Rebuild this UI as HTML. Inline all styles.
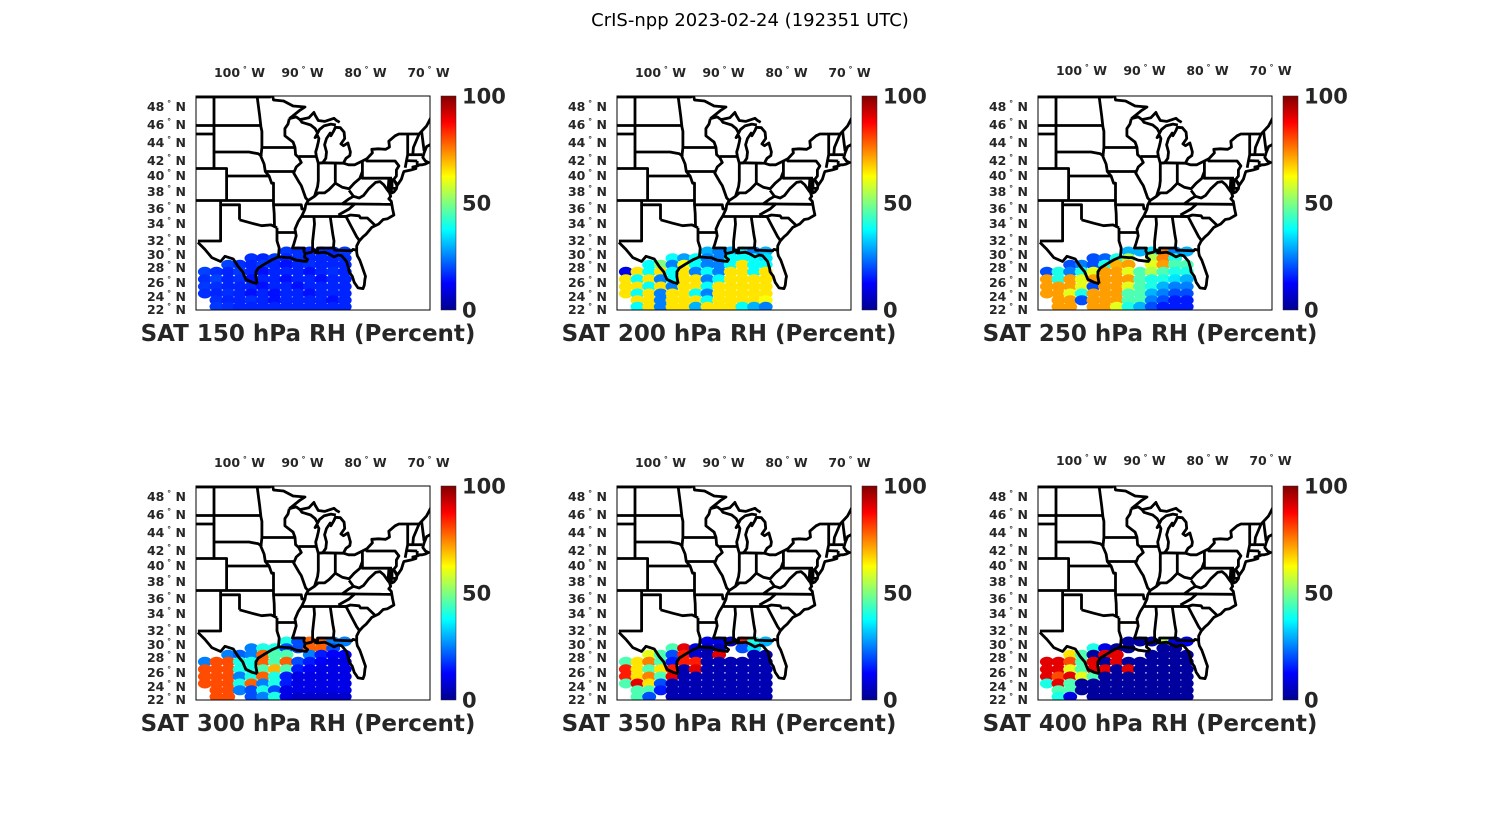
<!DOCTYPE html>
<html><head><meta charset="utf-8"><style>
html,body{margin:0;padding:0;background:#fff;}
svg{display:block;font-family:"DejaVu Sans","Liberation Sans",sans-serif;}
</style></head><body>
<svg id="fig" width="1500" height="825" viewBox="0 0 1500 825" xmlns="http://www.w3.org/2000/svg">
<defs>
<linearGradient id="jet" x1="0" y1="1" x2="0" y2="0">
<stop offset="0" stop-color="#00008f"/><stop offset="0.125" stop-color="#0000ff"/><stop offset="0.375" stop-color="#00ffff"/><stop offset="0.625" stop-color="#ffff00"/><stop offset="0.875" stop-color="#ff0000"/><stop offset="1" stop-color="#800000"/>
</linearGradient>
<clipPath id="boxclip" clipPathUnits="userSpaceOnUse"><rect x="0" y="0" width="234" height="214"/></clipPath>
</defs>
<text x="750" y="26" text-anchor="middle" font-size="18" fill="#000">CrIS-npp 2023-02-24 (192351 UTC)</text>
</svg>
<script>
var N = null;
var panelTitles = ["SAT 150 hPa RH (Percent)","SAT 200 hPa RH (Percent)","SAT 250 hPa RH (Percent)","SAT 300 hPa RH (Percent)","SAT 350 hPa RH (Percent)","SAT 400 hPa RH (Percent)"];
var gridLons = [-105.5,-103.65,-101.8,-99.95,-98.1,-96.25,-94.4,-92.55,-90.7,-88.85,-87,-85.15,-83.3];
var gridLats = [30.5,29.5,28.5,27.5,26.5,25.5,24.5,23.5,22.5];
var latTicks = [48,46,44,42,40,38,36,34,32,30,28,26,24,22];
var lonTicks = [-100,-90,-80,-70];
var cbarTicks = [0,50,100];
var rh150 = [
[N,N,N,N,N,N,N,18,17,16,17,16,18],
[N,N,N,N,17,16,18,16,17,16,16,16,17],
[N,N,19,17,16,18,16,14,16,17,16,16,16],
[19,17,16,18,16,14,16,16,16,14,16,17,16],
[17,19,16,17,14,16,16,14,16,16,14,16,16],
[18,17,16,16,16,14,16,16,14,16,16,16,16],
[17,16,17,16,14,16,14,16,16,14,16,16,16],
[N,17,16,16,17,16,14,16,16,16,16,14,16],
[N,18,17,16,16,16,16,16,16,16,16,16,16]];
var rh200 = [
[N,N,N,N,N,N,N,30,25,30,35,25,30],
[N,N,N,N,38,28,38,25,25,38,38,38,35],
[N,N,38,50,25,62,38,25,25,38,65,38,38],
[10,65,38,65,38,65,25,38,25,65,65,38,65],
[65,38,65,25,38,65,65,25,38,65,65,65,65],
[65,65,38,65,25,65,65,38,65,65,65,65,65],
[65,38,65,25,65,65,38,25,65,65,65,65,65],
[N,65,65,25,65,65,65,38,65,65,65,65,62],
[N,38,65,25,65,65,30,65,65,65,38,30,25]];
var rh250 = [
[N,N,N,N,N,N,N,30,30,35,75,25,30],
[N,N,N,N,20,22,40,55,N,55,75,40,N],
[N,N,20,25,20,40,70,72,N,60,72,45,45],
[20,40,25,40,60,72,72,60,45,55,45,40,40],
[72,40,72,60,72,72,72,72,45,40,40,35,30],
[72,72,72,60,20,72,72,60,45,40,30,25,25],
[72,72,60,40,72,72,72,45,45,30,25,20,20],
[N,72,72,20,72,72,72,45,45,25,20,15,15],
[N,72,72,N,72,72,60,40,30,20,15,15,15]];
var rh300 = [
[N,N,N,N,N,N,N,40,20,78,78,25,25],
[N,N,N,N,25,40,40,20,20,78,78,20,N],
[N,N,25,22,25,78,45,45,N,25,15,12,12],
[25,80,80,40,40,78,45,78,20,15,12,10,10],
[80,80,80,40,40,45,70,45,15,12,10,10,10],
[80,80,80,25,40,78,40,15,10,10,10,10,10],
[80,80,80,40,78,25,40,15,10,10,10,10,10],
[N,80,80,25,20,40,20,10,10,10,10,10,10],
[N,80,80,N,20,25,40,10,8,8,8,8,8]];
var rh350 = [
[N,N,N,N,N,N,N,10,10,5,85,40,30],
[N,N,N,N,45,90,10,5,5,N,20,35,N],
[N,N,60,45,20,85,8,5,90,N,N,5,5],
[45,65,75,45,15,85,85,5,5,5,5,5,5],
[85,65,45,65,85,5,90,5,5,5,5,5,5],
[85,65,75,45,90,5,5,5,5,5,5,5,5],
[45,90,65,20,5,5,5,5,5,5,5,5,5],
[N,45,45,15,5,5,5,5,5,5,5,5,5],
[N,45,20,N,5,5,5,5,5,5,5,5,5]];
var rh400 = [
[N,N,N,N,N,N,N,3,3,3,55,10,10],
[N,N,N,N,40,10,3,3,N,N,3,3,N],
[N,N,65,45,3,90,90,N,N,3,3,3,3],
[90,90,80,45,90,3,90,3,3,3,3,3,3],
[90,90,60,45,90,90,3,90,3,3,3,3,3],
[90,80,90,60,45,3,3,3,3,3,3,3,3],
[40,90,45,3,3,3,3,3,3,3,3,3,3],
[N,45,45,3,3,3,3,3,3,3,3,3,3],
[N,40,10,N,3,3,3,3,3,3,3,3,3]];
var panelData = [rh150,rh200,rh250,rh300,rh350,rh400];

var mapLines = [
[[-108,49],[-95.15,49],[-95.15,49.38],[-94.8,49.3],[-94.6,48.7],[-93,48.6],[-91.5,48.1],[-89.6,48],[-90.5,47.6],[-92.1,46.7]],
[[-92.1,46.7],[-91,46.9],[-90.4,46.6],[-89,46.8],[-88.2,47.4],[-88,47.1],[-87.5,46.5],[-86.5,46.4],[-85,46.75],[-84.6,46.5],[-84.1,46.3]],
[[-86.8,41.76],[-86.3,42.3],[-86.2,43],[-86.5,43.8],[-86.2,44.5],[-85.6,45.1],[-85.5,44.8],[-85,45.4],[-84.8,45.75],[-84,45.7],[-83.4,45.2],[-83.3,44.5],[-83.9,43.9],[-83.5,43.7],[-82.8,44],[-82.4,43],[-82.5,42.6],[-83.1,42.3],[-83.4,41.9],[-83.5,41.7]],
[[-84.7,46],[-85.5,46.1],[-86.6,45.9],[-87.3,45.5],[-87.6,45.1],[-88,44.6],[-87.6,44.8],[-87.4,44.5],[-87.5,44.1],[-87.7,43.5],[-87.9,43],[-87.8,42.5],[-87.5,41.7],[-86.8,41.76]],
[[-90.4,46.6],[-90.1,46.3],[-88.7,46],[-88,45.6],[-87.6,45.1]],
[[-92.1,46.7],[-92.3,46.1],[-92.8,45.6],[-92.8,44.8],[-91.5,44.1],[-91.2,43.5],[-91.1,42.7],[-90.6,42.4],[-90.2,41.8],[-91,41.2],[-91.4,40.4],[-90.6,39.3],[-90.2,38.8],[-89.5,37.3],[-89.1,37],[-89.5,36.5],[-89.6,36],[-90.1,35.1],[-90.7,34.3],[-91.2,33.4],[-91,32.6],[-91.4,31.5],[-91.6,31],[-89.7,31],[-89.8,30.6],[-89.6,30.2]],
[[-96.45,43.5],[-91.2,43.5]],[[-90.6,42.5],[-87.8,42.5]],
[[-97.2,49],[-96.8,47],[-96.6,45.8],[-96.45,45.3],[-96.45,43.5],[-96.6,42.5],[-96.1,41.6],[-95.9,40.6],[-95.3,40],[-94.9,39.1],[-94.6,39.1],[-94.6,36.5],[-94.5,35.4],[-94.45,33.6]],
[[-108,45.94],[-96.6,45.94]],[[-104.05,43],[-98.5,43],[-97,42.8],[-96.45,42.5]],
[[-95.8,40.6],[-91.4,40.6]],
[[-89.1,37],[-88.1,37.5],[-87.5,37.9],[-86.5,37.9],[-85.8,38.3],[-84.8,39.1],[-83.7,38.6],[-82.6,38.4],[-81.8,39.1],[-80.9,39.7],[-80.5,40.6]],
[[-87.5,41.7],[-87.5,39.4],[-87.6,38.7],[-88.1,37.5]],[[-84.8,41.7],[-84.8,39.1]],[[-87,41.76],[-83.5,41.7]],
[[-80.5,42],[-80.5,39.72],[-75.8,39.72]],[[-79.8,42.25],[-79.8,42],[-75.3,42],[-74.7,41.35],[-75.1,40.8],[-75.1,40],[-75.5,39.6]],
[[-73.3,45],[-73.3,42.7],[-73.5,42.05],[-73.7,41.1]],[[-73.3,42.7],[-71,42.7]],[[-73.5,42.05],[-71.8,42]],[[-71.8,42],[-71.8,41.3]],
[[-71.5,45],[-72.4,43.5],[-72.5,42.7]],[[-71.1,45.3],[-70.7,43.1]],
[[-89.5,36.6],[-81.7,36.6]],[[-83.7,36.6],[-75.9,36.55]],[[-81.7,36.6],[-82.6,36],[-84.3,35.2]],
[[-83.7,36.6],[-82.6,37.2],[-81.9,37.5],[-82.6,38.2]],[[-81.9,37.5],[-81,37.3],[-80.3,37.6],[-79.5,38.4],[-78.4,39.2],[-77.7,39.3],[-77.1,38.9],[-76.3,38]],
[[-75.8,39.72],[-75.8,38.45],[-75.05,38.45]],
[[-90.3,35],[-83.1,35]],[[-84.3,35],[-83.1,35],[-82.4,35.2],[-81,35.1],[-80.8,34.8],[-79.7,34.8],[-78.5,33.85]],
[[-83.1,35],[-82.2,33.6],[-81.4,32.5],[-80.9,32]],
[[-88.2,35],[-88.1,34],[-88.4,31.9],[-88.4,30.4]],[[-85.6,35],[-85.2,32.8],[-85,32],[-85.1,31]],
[[-87.6,30.3],[-87.6,31],[-85,31],[-84.9,30.7],[-82.2,30.6],[-82,30.8],[-81.5,30.7]],
[[-94.05,33],[-91.2,33]],[[-94.6,36.5],[-90.2,36.5],[-90.1,36],[-89.7,36]],
[[-94.05,33.55],[-94.05,32],[-93.7,31],[-93.8,30],[-93.85,29.7]],
[[-100,34.56],[-98,34.1],[-96.5,33.8],[-95,33.9],[-94.05,33.55]],
[[-102.05,40],[-95.3,40]],[[-108,37],[-94.6,37]],
[[-103,37],[-103,36.5],[-100,36.5],[-100,34.56]],[[-103,36.5],[-103,32],[-106.6,32]],
[[-108,41],[-102.05,41],[-102.05,37]],[[-108,45],[-104.05,45],[-104.05,41]],[[-104.05,49],[-104.05,45]],
[[-106.6,31.8],[-105.5,30.8],[-104.4,29.6],[-103,29],[-102.3,29.8],[-101,29.4],[-100.2,28.2],[-99.5,27.5],[-99,26.5],[-98,26.1],[-97.2,25.9]],
[[-97.2,25.9],[-97.4,26.8],[-97.4,27.5],[-97,28],[-96,28.6],[-94.8,29.3],[-93.8,29.7],[-92.5,29.6],[-92,29.6],[-91,29.2],[-90.2,29.1],[-89.4,29],[-89.2,29.3],[-89.7,29.7],[-89.6,30.2],[-88.6,30.4],[-88,30.7],[-87.9,30.3],[-87.5,30.3],[-86.5,30.4],[-85.7,30.1],[-85,29.7],[-84.3,30],[-83.8,29.9],[-83,29],[-82.7,28],[-82.6,27.5],[-82.1,26.9],[-81.8,26.1],[-81.2,25.3],[-80.4,25.2],[-80.2,25.7],[-80.1,26.5],[-80,26.9],[-80.6,28.4],[-80.9,29.2],[-81.3,29.9],[-81.4,30.4],[-81.4,31.3],[-81,32],[-80.4,32.5],[-79.9,32.8],[-79,33.6],[-77.9,34],[-77.2,34.6],[-76.5,34.7],[-75.5,35.2],[-75.7,36],[-75.9,36.9],[-76.3,37.2],[-76,37.5],[-76.4,38.4],[-76.3,39.5],[-75.9,39.3],[-76,38.5],[-75.8,37.9],[-75.5,38],[-75.1,38.4],[-75,38.8],[-75.5,39.5],[-74.9,38.9],[-74.3,39.6],[-74,40.4],[-73.9,40.6],[-72.8,40.8],[-72,41],[-72.5,41.2],[-71.9,41.3],[-71.4,41.5],[-71,41.5],[-70.5,41.6],[-70,41.8],[-70.5,42],[-70.9,42.4],[-70.7,42.9],[-70.3,43.6],[-69.8,43.8],[-68,44.4]],
[[-83.5,41.7],[-82.7,41.5],[-81.7,41.5],[-80.5,42],[-79.8,42.25],[-78.9,42.9],[-79,43.3],[-78,43.35],[-76.8,43.3],[-76.2,43.55],[-76.3,44.2],[-75.3,44.8],[-74.7,45],[-71.5,45],[-71.1,45.3],[-70.3,45.9],[-69.2,47.4]]
];

var latTable = [[50,88],[49,97],[48,107],[46,125],[44,143],[42,161],[40,176],[38,192],[36,209],[34,224],[32,241],[30,255],[28,268],[26,283],[24,297],[22,310],[20,324]];
function py(lat){
  for(var i=0;i<latTable.length-1;i++){
    var a=latTable[i],b=latTable[i+1];
    if(lat<=a[0]&&lat>=b[0]){return a[1]+(b[1]-a[1])*(a[0]-lat)/(a[0]-b[0])-96;}
  }
  return lat>50?-10:230;
}
function px(lon){return 18+(lon+104.05)*6.3;}
function jet(v){
  var t=Math.max(0,Math.min(1,v/100));
  function c(x){return Math.round(255*Math.max(0,Math.min(1,x)));}
  return 'rgb('+c(1.5-Math.abs(4*t-3))+','+c(1.5-Math.abs(4*t-2))+','+c(1.5-Math.abs(4*t-1))+')';
}
var NS='http://www.w3.org/2000/svg';
var svg=document.getElementById('fig');
function mk(tag,attrs,parent){var e=document.createElementNS(NS,tag);for(var k in attrs)e.setAttribute(k,attrs[k]);parent.appendChild(e);return e;}

var origins=[[196,96],[617,96],[1038,96],[196,486],[617,486],[1038,486]];
for(var p=0;p<6;p++){
  var g=mk('g',{transform:'translate('+origins[p][0]+','+origins[p][1]+')'},svg);
  
  
  var inner=mk('g',{'clip-path':'url(#boxclip)'},g);
  var dots=mk('g',{},inner);
  
  
  var data=panelData[p];
  for(var r=0;r<gridLats.length;r++){
    for(var c=0;c<gridLons.length;c++){
      var v=data[r][c];
      if(v===null) continue;
      var d=mk('ellipse',{cx:px(gridLons[c]).toFixed(1),cy:py(gridLats[r]).toFixed(1),rx:7,ry:5,fill:jet(v)},dots);
      
      
    }
  }
  var lines=mk('g',{fill:'none',stroke:'#000','stroke-width':2.8,'stroke-linejoin':'round'},inner);
  
  
  for(var i=0;i<mapLines.length;i++){
    var pts=mapLines[i].map(function(q){return px(q[0]).toFixed(1)+','+py(q[1]).toFixed(1);}).join(' ');
    mk('polyline',{points:pts},lines);
  }
  var box=mk('rect',{x:0,y:0,width:234,height:214,fill:'none',stroke:'#000','stroke-width':1},g);
  
  
  var ty=(p===2||p===5)?-21:-19;
  for(var i=0;i<lonTicks.length;i++){
    var t=mk('text',{x:px(lonTicks[i]),y:ty,'text-anchor':'middle','font-size':12.5,'font-weight':'bold',fill:'#262626'},g);
    
    
    t.appendChild(document.createTextNode(Math.abs(lonTicks[i])));
    var s=mk('tspan',{dy:-5,'font-size':8},t);s.textContent=' \u00B0';
    var s2=mk('tspan',{dy:5},t);s2.textContent=' W';
  }
  for(var i=0;i<latTicks.length;i++){
    var t=mk('text',{x:-10,y:py(latTicks[i])+4,'text-anchor':'end','font-size':12.5,'font-weight':'bold',fill:'#262626'},g);
    
    
    t.appendChild(document.createTextNode(latTicks[i]));
    var s=mk('tspan',{dy:-5,'font-size':8},t);s.textContent=' \u00B0';
    var s2=mk('tspan',{dy:5},t);s2.textContent=' N';
  }
  var cb=mk('rect',{x:245,y:0,width:15,height:214,fill:'url(#jet)',stroke:'#262626','stroke-width':0.5},g);
  
  
  for(var i=0;i<cbarTicks.length;i++){
    var yv=214-cbarTicks[i]/100*214;
    var t=mk('text',{x:266,y:yv+7.5,'font-size':21,'font-weight':'bold',fill:'#262626'},g);
    
    
    t.textContent=cbarTicks[i];
  }
  var tt=mk('text',{x:112,y:245,'text-anchor':'middle','font-size':23,'font-weight':'bold',fill:'#262626'},g);
  
  
  tt.textContent=panelTitles[p];
}
</script>
</body></html>
